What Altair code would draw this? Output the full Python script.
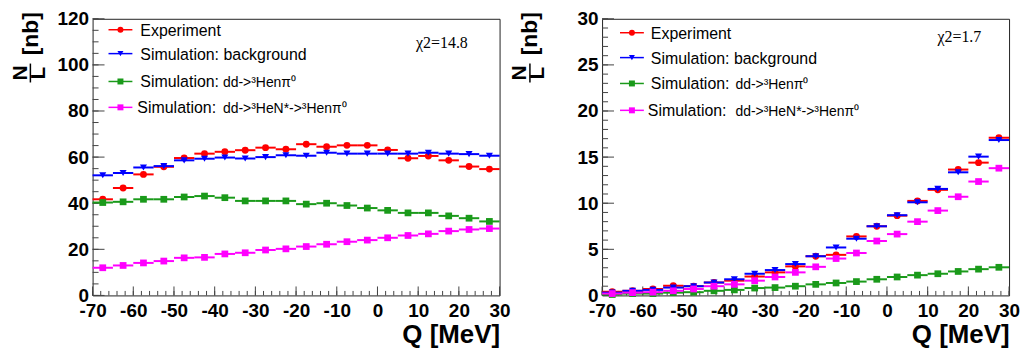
import altair as alt
import pandas as pd

# ---------------- data ----------------
q_centers = [-67.5, -62.5, -57.5, -52.5, -47.5, -42.5, -37.5, -32.5, -27.5, -22.5,
             -17.5, -12.5, -7.5, -2.5, 2.5, 7.5, 12.5, 17.5, 22.5, 27.5]
bin_half = 2.5

# left panel (chi2 = 14.8)
exp_L = [41.7, 46.6, 52.5, 55.8, 59.6, 61.5, 62.3, 63.0, 64.1, 63.4,
         65.6, 64.5, 65.1, 65.1, 63.1, 59.5, 60.5, 58.6, 55.9, 54.8]
bkg_L = [52.1, 53.1, 55.5, 56.1, 58.6, 59.3, 59.8, 59.4, 60.0, 60.8,
         60.6, 61.9, 61.5, 61.5, 61.5, 61.5, 61.9, 61.5, 61.3, 60.6]
dd_L = [40.3, 40.6, 41.7, 41.7, 42.7, 43.1, 42.4, 41.0, 41.0, 41.0,
        39.6, 40.0, 39.0, 37.9, 36.9, 35.8, 35.8, 34.5, 33.5, 32.1]
nst_L = [12.0, 13.0, 14.1, 14.9, 16.3, 16.5, 18.0, 18.5, 19.7, 20.2,
         21.2, 22.2, 23.3, 24.0, 25.0, 26.0, 26.7, 27.9, 28.6, 29.0]

# right panel (chi2 = 1.7)
exp_R = [0.4, 0.5, 0.7, 1.05, 1.0, 1.4, 1.6, 2.05, 2.5, 3.15,
         4.25, 4.4, 6.4, 7.5, 8.65, 10.25, 11.45, 13.65, 14.4, 17.1]
bkg_R = [0.3, 0.5, 0.6, 0.85, 1.0, 1.4, 1.75, 2.35, 2.75, 3.4,
         4.25, 5.2, 6.15, 7.5, 8.7, 10.1, 11.55, 13.35, 15.05, 16.85]
dd_R = [0.1, 0.2, 0.2, 0.3, 0.35, 0.5, 0.6, 0.8, 0.85, 1.0,
        1.2, 1.35, 1.5, 1.75, 2.0, 2.2, 2.35, 2.6, 2.85, 3.05]
nst_R = [0.2, 0.3, 0.35, 0.5, 0.7, 1.0, 1.2, 1.6, 2.0, 2.5,
         3.1, 4.0, 4.6, 5.9, 6.65, 8.0, 9.2, 10.7, 12.35, 13.8]

x_major = [-70, -60, -50, -40, -30, -20, -10, 0, 10, 20, 30]
x_minor = [-70, -68, -66, -64, -62, -60, -58, -56, -54, -52, -50, -48, -46, -44, -42, -40,
           -38, -36, -34, -32, -30, -28, -26, -24, -22, -20, -18, -16, -14, -12, -10,
           -8, -6, -4, -2, 0, 2, 4, 6, 8, 10, 12, 14, 16, 18, 20, 22, 24, 26, 28, 30]
yL_major = [0, 20, 40, 60, 80, 100, 120]
yL_minor = [0, 5, 10, 15, 20, 25, 30, 35, 40, 45, 50, 55, 60, 65, 70, 75, 80, 85, 90, 95,
            100, 105, 110, 115, 120]
yR_major = [0, 5, 10, 15, 20, 25, 30]
yR_minor = [0, 1, 2, 3, 4, 5, 6, 7, 8, 9, 10, 11, 12, 13, 14, 15, 16, 17, 18, 19, 20,
            21, 22, 23, 24, 25, 26, 27, 28, 29, 30]

leg_first = ["Experiment", "Simulation:  background", "Simulation:", "Simulation:"]
leg_second = ["", "", "dd->\u00b3Hen\u03c0\u2070", "dd->\u00b3HeN*->\u00b3Hen\u03c0\u2070"]
colors = ["#ff0000", "#0000ff", "#1a9a1a", "#ff00ff"]
shapes = ["circle", "triangle-down", "square", "square"]
sizes = [48, 50, 46, 46]

W, H = 409, 278
FONT = "Liberation Sans"


def panel(vals, ymax, ymaj, ymin, chi, chi_pos, leg_rows, leg_x, title_pos):
    xsc = alt.Scale(domain=[-70, 30], nice=False, zero=False)
    ysc = alt.Scale(domain=[0, ymax], nice=False, zero=True)
    xaxis = alt.Axis(values=x_major, ticks=False, tickSize=0, domain=False, grid=False,
                     labelFont=FONT, labelFontSize=19, labelFontWeight="bold",
                     labelColor="black", labelPadding=6, labelFlush=False, labelOverlap=False,
                     labelExpr="datum.value < 0 ? '-' + toString(-datum.value) : toString(datum.value)",
                     title="Q [MeV]", titleFont=FONT, titleFontSize=26, titleFontWeight="bold",
                     titleColor="black", titleX=W, titleY=47, titleAlign="right",
                     titleBaseline="alphabetic", titleAnchor="end")
    yaxis = alt.Axis(values=ymaj, ticks=False, tickSize=0, domain=False, grid=False,
                     labelFont=FONT, labelFontSize=19, labelFontWeight="bold",
                     labelColor="black", labelPadding=4, labelFlush=False, labelOverlap=False,
                     title=None)

    def X(f):
        return alt.X(f, type="quantitative", scale=xsc, axis=xaxis)

    def Y(f):
        return alt.Y(f, type="quantitative", scale=ysc, axis=yaxis)

    layers = []
    # tick marks (inside, ROOT style)
    layers.append(alt.Chart(pd.DataFrame({"t": x_minor})).mark_rule(color="#444", strokeWidth=1).encode(
        x=X("t"), y=alt.value(H), y2=alt.value(H - 4.5)))
    layers.append(alt.Chart(pd.DataFrame({"t": x_major})).mark_rule(color="#444", strokeWidth=1).encode(
        x=X("t"), y=alt.value(H), y2=alt.value(H - 9)))
    layers.append(alt.Chart(pd.DataFrame({"t": ymin})).mark_rule(color="#444", strokeWidth=1).encode(
        y=Y("t"), x=alt.value(0), x2=alt.value(6)))
    layers.append(alt.Chart(pd.DataFrame({"t": ymaj})).mark_rule(color="#444", strokeWidth=1).encode(
        y=Y("t"), x=alt.value(0), x2=alt.value(12)))

    # data series: horizontal bin-width bars + markers
    for i, v in enumerate(vals):
        df = pd.DataFrame({"q": q_centers, "val": v})
        df["lo"] = df["q"] - bin_half
        df["hi"] = df["q"] + bin_half
        base = alt.Chart(df)
        layers.append(base.mark_rule(color=colors[i], strokeWidth=2).encode(
            x=X("lo"), x2="hi", y=Y("val")))
        layers.append(base.mark_point(shape=shapes[i], filled=True, opacity=1,
                                      color=colors[i], size=sizes[i]).encode(
            x=X("q"), y=Y("val")))

    d = pd.DataFrame({"one": [0]})
    # legend
    for i in range(4):
        ry = leg_rows[i]
        layers.append(alt.Chart(d).mark_rule(color=colors[i], strokeWidth=1.5).encode(
            x=alt.value(leg_x[0]), x2=alt.value(leg_x[0] + 24), y=alt.value(ry)))
        layers.append(alt.Chart(d).mark_point(shape=shapes[i], filled=True, opacity=1,
                                              color=colors[i], size=36).encode(
            x=alt.value(leg_x[0] + 12), y=alt.value(ry)))
        tx = leg_x[1] if i < 3 else leg_x[1] - 3
        layers.append(alt.Chart(d).mark_text(text=leg_first[i], font=FONT, fontSize=16,
                                             align="left", baseline="alphabetic",
                                             color="black").encode(
            x=alt.value(tx), y=alt.value(ry + 6)))
        if leg_second[i]:
            layers.append(alt.Chart(d).mark_text(text=leg_second[i], font=FONT, fontSize=14,
                                                 align="left", baseline="alphabetic",
                                                 color="black").encode(
                x=alt.value(leg_x[2]), y=alt.value(ry + 6)))

    # chi2 text
    layers.append(alt.Chart(d).mark_text(text=chi, font="Liberation Serif", fontSize=16,
                                         align="left", baseline="alphabetic",
                                         color="black").encode(
        x=alt.value(chi_pos[0]), y=alt.value(chi_pos[1])))

    # y title: fraction N / L followed by [nb], rotated
    (nx, ny), (bx, by1, by2), (lx, ly), (ux, uy) = title_pos
    layers.append(alt.Chart(d).mark_text(text="N", font=FONT, fontSize=21, fontWeight="bold",
                                         angle=270, align="center", baseline="alphabetic",
                                         color="black").encode(
        x=alt.value(nx), y=alt.value(ny)))
    layers.append(alt.Chart(d).mark_rule(color="black", strokeWidth=1.5).encode(
        x=alt.value(bx), y=alt.value(by1), y2=alt.value(by2)))
    layers.append(alt.Chart(d).mark_text(text="L", font=FONT, fontSize=21, fontWeight="bold",
                                         angle=270, align="center", baseline="alphabetic",
                                         color="black").encode(
        x=alt.value(lx), y=alt.value(ly)))
    layers.append(alt.Chart(d).mark_text(text="[nb]", font=FONT, fontSize=23, fontWeight="bold",
                                         angle=270, align="center", baseline="alphabetic",
                                         color="black").encode(
        x=alt.value(ux), y=alt.value(uy)))

    return alt.layer(*layers).properties(width=W, height=H)


left = panel([exp_L, bkg_L, dd_L, nst_L], 120, yL_major, yL_minor, "\u03c72=14.8", (325, 29),
             [11, 35, 63, 89], (16, 48, 131),
             ((-66.3, 54.5), (-62.5, 45, 64), (-48, 54.5), (-55, 15)))
right = panel([exp_R, bkg_R, dd_R, nst_R], 30, yR_major, yR_minor, "\u03c72=1.7", (337, 23),
              [14, 39, 65, 92], (18, 49, 134),
              ((-76, 54.5), (-72.5, 45, 64), (-58, 54.5), (-65, 15)))

chart = alt.hconcat(left, right, spacing=103, bounds="flush").properties(
    padding={"left": 1, "top": 0, "right": 0, "bottom": 0}
).configure_view(stroke="#222", strokeWidth=1)

chart.save("out.html", embed_options={"renderer": "svg", "actions": False})
